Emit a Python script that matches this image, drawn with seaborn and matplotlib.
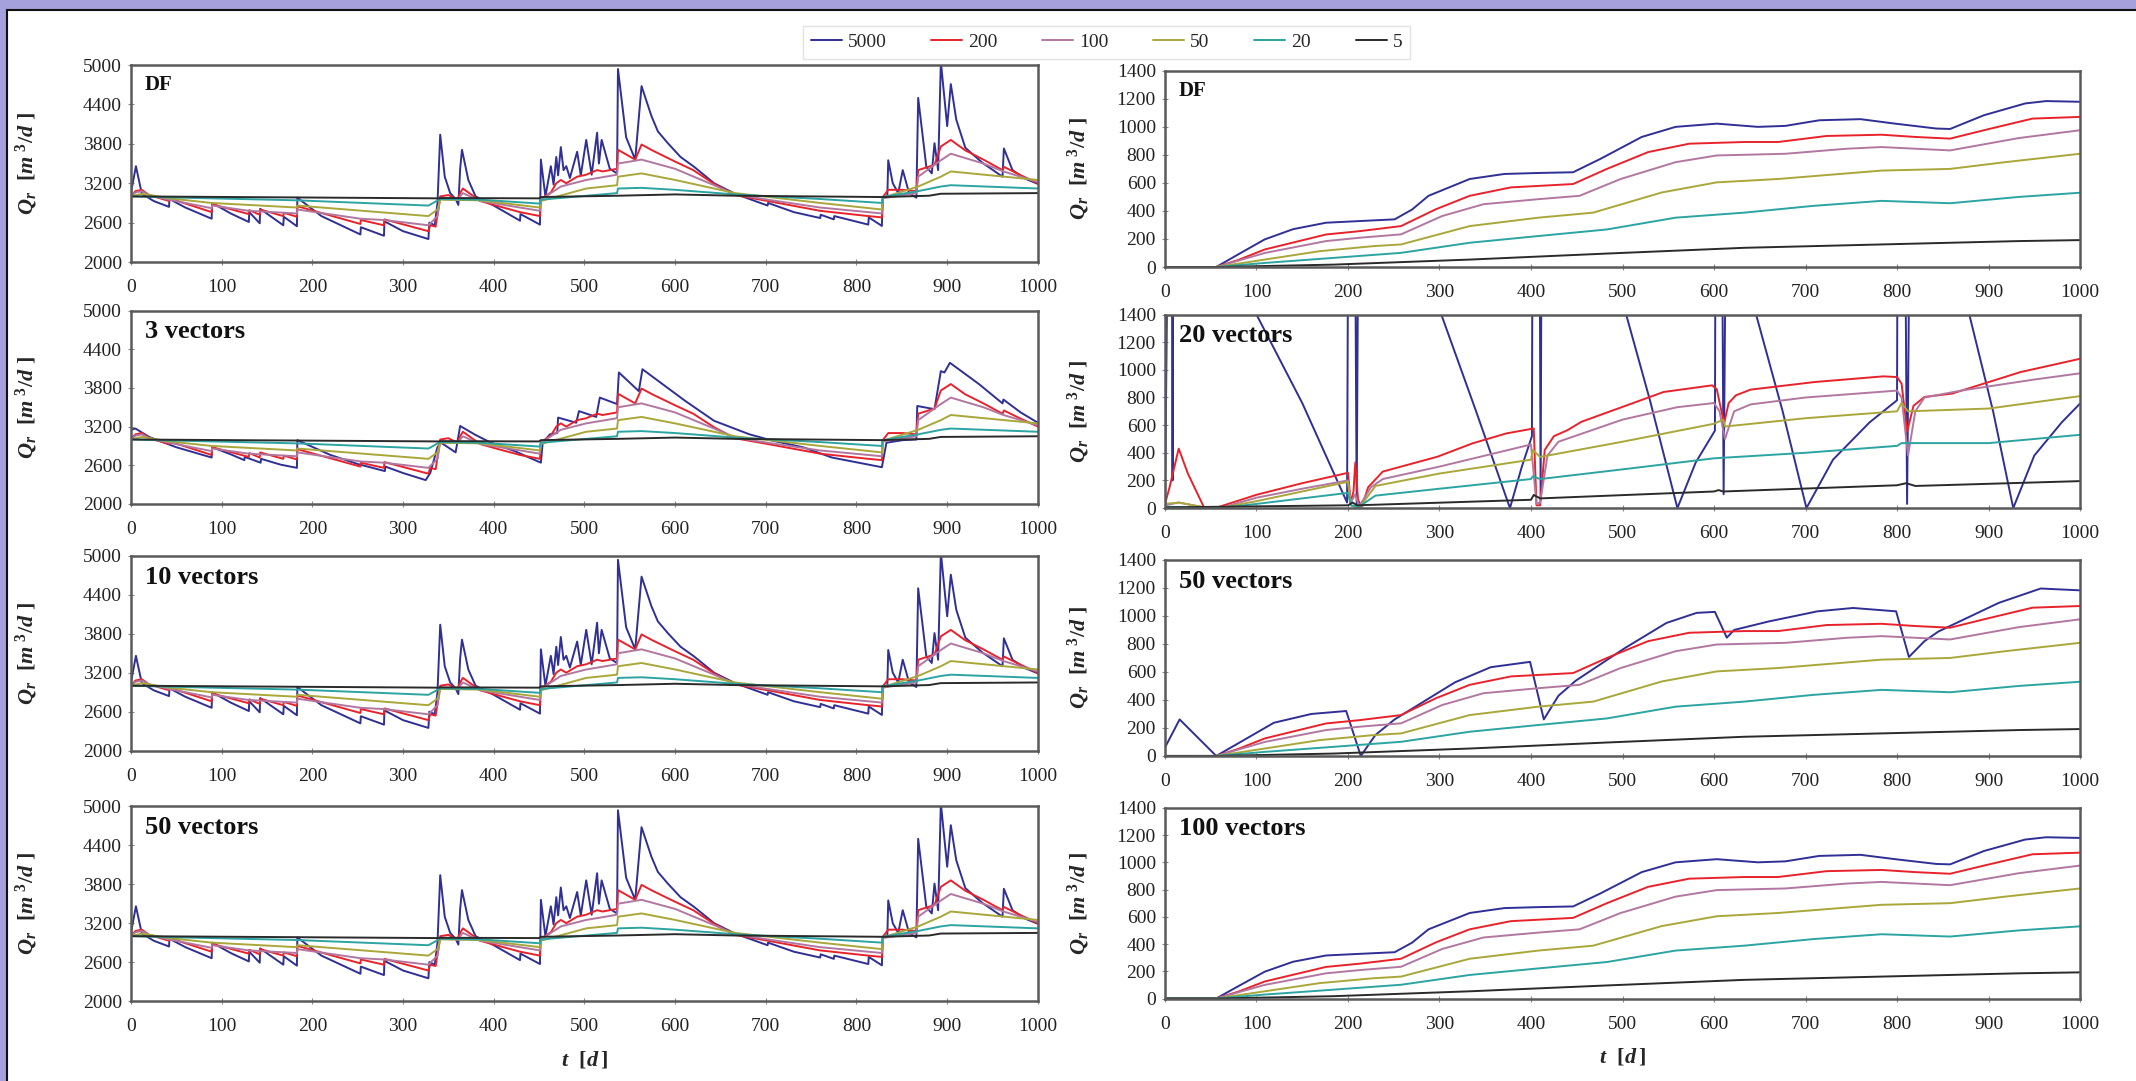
import pandas as pd
import matplotlib
matplotlib.use('Agg')
import matplotlib.pyplot as plt
import seaborn as sns
from matplotlib.patches import Rectangle

# legend entries and colours
LABELS = ['5000', '200', '100', '50', '20', '5']
COLORS = ['#2f2f95', '#e8222b', '#b277a0', '#a9a73a', '#2ba4a2', '#2a2a2a']

# ---------------- left column: Q_r around 3000 (DF, 10 and 50 vectors) ----------------
L_T_5000 = [0, 5.5, 12, 25, 42, 42.5, 60, 89, 89.5, 110, 130, 130.5, 142, 142.5, 168, 168.5,
            183, 183.5, 210, 253, 253.5, 279, 279.5, 300, 328, 329, 335, 338, 341, 346, 352,
            358, 361, 363, 365, 372, 380, 400, 429, 429.5, 451, 452, 457, 463, 466, 469, 471,
            474, 477, 480, 484, 492, 496, 502, 508, 514, 516, 519, 528, 536, 537, 546, 556,
            563, 574, 581, 592, 606, 621, 643, 666, 702, 702.5, 731, 760, 760.5, 775, 775.5,
            813, 813.5, 828, 829, 834, 835, 840, 846, 851, 858, 866, 868, 877, 883, 886, 890,
            893, 900, 904, 910, 920, 939, 961, 962.5, 972, 986, 1000]
L_Q_5000 = [3050, 3460, 3040, 2930, 2840, 2960, 2830, 2660, 2900, 2740, 2610, 2760, 2590, 2810,
            2560, 2690, 2545, 2980, 2700, 2420, 2530, 2400, 2620, 2470, 2350, 2600, 2560, 2900,
            3940, 3300, 3050, 2960, 2870, 3420, 3710, 3250, 3000, 2860, 2630, 2730, 2570, 3560,
            3000, 3460, 3180, 3600, 3320, 3750, 3400, 3460, 3280, 3680, 3320, 3860, 3330, 3970,
            3500, 3860, 3420, 3350, 4940, 3900, 3560, 4680, 4220, 3990, 3810, 3600, 3450, 3200,
            3040, 2860, 2900, 2760, 2670, 2720, 2650, 2700, 2570, 2680, 2550, 2990, 3000, 3550,
            3200, 3050, 3400, 3050, 2980, 4500, 3450, 3350, 3810, 3400, 5050, 4070, 4710, 4170,
            3740, 3510, 3300, 3730, 3400, 3270, 3190]

L_T_200 = [0, 5, 12, 20, 42, 42.5, 89, 89.5, 130, 130.5, 142, 142.5, 168, 168.5, 183, 183.5,
           253, 253.5, 279, 279.5, 328, 330, 336, 341, 350, 360, 363, 366, 375, 385, 400, 429,
           451, 452, 463, 469, 474, 480, 492, 502, 514, 520, 536, 537, 556, 563, 575, 600, 620,
           643, 666, 702, 760, 813, 828, 829, 835, 851, 866, 868, 886, 893, 904, 920, 940, 961,
           962.5, 980, 1000]
L_Q_200 = [3000, 3080, 3100, 3020, 2930, 2970, 2760, 2880, 2730, 2790, 2720, 2800, 2700, 2750,
           2690, 2850, 2580, 2640, 2560, 2650, 2470, 2560, 2540, 3000, 3020, 2950, 3050, 3120,
           3030, 2930, 2870, 2760, 2700, 2960, 3060, 3200, 3250, 3200, 3300, 3330, 3400, 3380,
           3420, 3710, 3560, 3790, 3700, 3530, 3400, 3190, 3020, 2930, 2780, 2700, 2680, 2990,
           3100, 3100, 3080, 3400, 3480, 3760, 3860, 3700, 3560, 3400, 3450, 3330, 3200]

L_T_100 = [0, 5, 12, 20, 42, 89, 89.5, 130, 183, 183.5, 253, 279, 328, 338, 341, 360, 366, 385,
           451, 452, 474, 502, 536, 537, 563, 600, 643, 666, 702, 760, 828, 829, 866, 868, 893,
           904, 940, 962, 1000]
L_Q_100 = [3000, 3060, 3080, 3020, 2950, 2820, 2860, 2780, 2740, 2800, 2660, 2640, 2560, 2700,
           2960, 2950, 3050, 2930, 2780, 2950, 3150, 3250, 3330, 3500, 3560, 3420, 3170, 3030,
           2950, 2830, 2740, 2970, 3050, 3300, 3550, 3650, 3500, 3380, 3220]

L_T_50 = [0, 12, 42, 89, 183, 183.5, 328, 338, 341, 385, 451, 452, 502, 536, 537, 563, 600, 666,
          760, 828, 829, 868, 893, 904, 1000]
L_Q_50 = [3000, 3040, 2970, 2900, 2830, 2860, 2700, 2800, 2950, 2940, 2830, 2930, 3120, 3170,
          3300, 3350, 3250, 3050, 2900, 2800, 2980, 3150, 3300, 3380, 3250]

L_T_20 = [0, 42, 183, 328, 341, 385, 451, 452, 536, 537, 563, 600, 666, 760, 828, 829, 868, 893,
          904, 1000]
L_Q_20 = [3000, 2985, 2940, 2860, 2960, 2950, 2890, 2950, 3050, 3120, 3130, 3100, 3030, 2960,
          2900, 2990, 3080, 3150, 3170, 3120]

L_T_5 = [0, 340, 342, 450, 452, 537, 600, 666, 828, 880, 893, 1000]
L_Q_5 = [3000, 2970, 2975, 2970, 2990, 3010, 3030, 3010, 2990, 3010, 3040, 3050]

# 3 vectors: the 5000 curve loses its spikes
V3_T_5000 = [0, 5, 20, 50, 89, 89.5, 110, 125, 125.5, 143, 143.5, 165, 183, 183.5, 220, 250,
             280, 280.5, 300, 325, 330, 338, 342, 358, 363, 380, 397, 423, 452, 454, 462, 470,
             471, 491, 494, 513, 517, 536, 538, 560, 564, 611, 643, 682, 708, 741, 773, 828,
             833, 851, 866, 867, 886, 893, 897, 903, 935, 961, 962, 981, 1000]
V3_Q_5000 = [3150, 3170, 3040, 2880, 2720, 2880, 2770, 2680, 2730, 2640, 2700, 2610, 2560, 2990,
             2760, 2620, 2510, 2580, 2480, 2370, 2480, 2880, 2950, 2800, 3210, 3070, 2950, 2820,
             2640, 2950, 3080, 3100, 3340, 3260, 3440, 3350, 3650, 3550, 4040, 3750, 4090, 3600,
             3290, 3080, 2980, 2880, 2720, 2570, 2950, 2990, 3000, 3520, 3470, 4060, 4040, 4190,
             3860, 3560, 3620, 3420, 3260]

# ---------------- right column: Q_r 0..1400 (DF and 100 vectors) ----------------
R_T_5000 = [0, 56, 80, 109, 140, 176, 213, 251, 270, 288, 333, 371, 408, 446, 476, 521, 558,
            603, 648, 678, 715, 760, 798, 843, 858, 895, 940, 963, 1000]
R_Q_5000 = [0, 0, 90, 197, 270, 316, 328, 340, 410, 508, 628, 664, 671, 676, 772, 928, 1000,
            1023, 1000, 1007, 1047, 1055, 1023, 988, 985, 1083, 1167, 1184, 1179]

R_T_200 = [0, 56, 80, 109, 176, 213, 258, 296, 333, 378, 446, 483, 528, 573, 633, 670, 723,
           783, 820, 858, 895, 948, 1000]
R_Q_200 = [0, 0, 50, 125, 232, 256, 292, 412, 508, 568, 592, 700, 820, 880, 892, 892, 935,
           944, 928, 916, 976, 1059, 1071]

R_T_100 = [0, 56, 109, 176, 213, 258, 303, 348, 408, 453, 498, 558, 603, 678, 745, 783, 858,
           933, 1000]
R_Q_100 = [0, 0, 100, 185, 209, 233, 364, 448, 484, 508, 628, 748, 796, 808, 844, 856, 832,
           920, 976]

R_T_50 = [0, 56, 109, 169, 228, 258, 333, 408, 468, 543, 603, 670, 783, 858, 918, 1000]
R_Q_50 = [0, 0, 53, 113, 149, 161, 292, 352, 388, 532, 604, 628, 688, 700, 748, 808]

R_T_20 = [0, 56, 109, 184, 258, 333, 408, 483, 558, 633, 708, 783, 858, 933, 1000]
R_Q_20 = [0, 0, 29, 65, 101, 173, 221, 268, 352, 388, 436, 472, 455, 500, 530]

R_T_5 = [0, 56, 184, 333, 483, 633, 783, 933, 1000]
R_Q_5 = [0, 0, 17, 53, 96, 137, 161, 185, 192]

# 20 vectors (unstable 5000 curve runs far off the top)
V20_T_5000 = [0, 4.5, 7.5, 8.3, 9, 100, 150, 199, 200.7, 207, 209.5, 212, 302, 340, 377, 390,
              401, 402, 409, 410.5, 412, 504, 530, 560, 580, 601, 602, 608, 610.5, 614, 646,
              675, 701, 730, 770, 800, 801, 808, 811, 815, 879, 905, 927, 950, 980, 1000]
V20_Q_5000 = [0, 3000, 3000, 200, 3000, 1400, 760, 40, 3000, 3000, 30, 3000, 1400, 700, 0, 300,
              520, 3000, 3000, 60, 3000, 1400, 780, 0, 330, 560, 3000, 3000, 100, 3000, 1400,
              700, 0, 350, 620, 780, 3000, 3000, 30, 3000, 1400, 700, 0, 380, 620, 756]
V20_T_200 = [0, 5, 15, 25, 43, 55, 100, 150, 200, 203, 206, 208, 211, 215, 222, 238, 298, 336,
             373, 403, 406, 410, 415, 425, 440, 455, 500, 545, 598, 603, 611, 616, 624, 640,
             710, 785, 800, 805, 811, 818, 830, 860, 935, 1000]
V20_Q_200 = [30, 150, 430, 250, 0, 0, 96, 180, 255, 40, 120, 330, 60, 10, 150, 264, 372, 468,
             540, 576, 20, 20, 420, 520, 564, 624, 732, 840, 888, 860, 612, 760, 816, 857, 912,
             953, 948, 900, 552, 740, 804, 828, 984, 1080]
V20_T_100 = [0, 15, 43, 60, 100, 150, 200, 203, 208, 212, 225, 238, 300, 400, 406, 410, 418,
             430, 500, 560, 600, 606, 612, 622, 640, 700, 800, 805, 812, 820, 830, 870, 950, 1000]
V20_Q_100 = [20, 40, 5, 0, 75, 140, 200, 40, 100, 10, 150, 210, 300, 460, 30, 40, 380, 480,
             640, 730, 760, 700, 500, 700, 750, 800, 850, 800, 380, 700, 800, 850, 930, 975]
V20_T_50 = [0, 15, 43, 60, 100, 200, 203, 212, 230, 300, 400, 402, 410, 500, 600, 610, 612, 700,
            800, 805, 812, 900, 1000]
V20_Q_50 = [30, 40, 5, 0, 50, 190, 20, 0, 160, 250, 350, 420, 370, 480, 610, 640, 590, 650,
            700, 760, 700, 720, 810]
V20_T_20 = [0, 60, 100, 200, 203, 212, 230, 300, 400, 402, 410, 500, 600, 700, 800, 805, 900, 1000]
V20_Q_20 = [10, 0, 30, 110, 20, 10, 90, 140, 210, 230, 210, 280, 360, 400, 450, 470, 470, 530]
V20_T_5 = [0, 200, 205, 210, 400, 403, 410, 600, 605, 610, 800, 810, 820, 1000]
V20_Q_5 = [5, 20, 40, 20, 60, 95, 70, 120, 130, 120, 165, 180, 160, 195]

# 50 vectors (right): 5000 curve with periodic drops
V50_T_5000 = [0, 16, 56, 80, 119, 160, 198, 214, 230, 251, 317, 356, 399, 414, 430, 449, 502,
              548, 581, 601, 614, 622, 660, 713, 752, 799, 813, 830, 845, 911, 957, 1000]
V50_Q_5000 = [60, 261, 0, 90, 237, 300, 321, 0, 150, 261, 526, 634, 672, 261, 430, 538, 768,
              950, 1022, 1029, 845, 900, 961, 1033, 1057, 1033, 707, 820, 888, 1093, 1196, 1183]

left_df = {'5000': (L_T_5000, L_Q_5000), '200': (L_T_200, L_Q_200), '100': (L_T_100, L_Q_100),
           '50': (L_T_50, L_Q_50), '20': (L_T_20, L_Q_20), '5': (L_T_5, L_Q_5)}
left_v3 = dict(left_df, **{'5000': (V3_T_5000, V3_Q_5000)})
right_df = {'5000': (R_T_5000, R_Q_5000), '200': (R_T_200, R_Q_200), '100': (R_T_100, R_Q_100),
            '50': (R_T_50, R_Q_50), '20': (R_T_20, R_Q_20), '5': (R_T_5, R_Q_5)}
right_v20 = {'5000': (V20_T_5000, V20_Q_5000), '200': (V20_T_200, V20_Q_200),
             '100': (V20_T_100, V20_Q_100), '50': (V20_T_50, V20_Q_50),
             '20': (V20_T_20, V20_Q_20), '5': (V20_T_5, V20_Q_5)}
right_v50 = dict(right_df, **{'5000': (V50_T_5000, V50_Q_5000)})

sns.set_theme(style='white')
plt.rcParams['font.family'] = ['Liberation Serif', 'DejaVu Serif']
plt.rcParams['mathtext.fontset'] = 'custom'
plt.rcParams['mathtext.it'] = 'Liberation Serif:italic:bold'
plt.rcParams['mathtext.rm'] = 'Liberation Serif:bold'
plt.rcParams['mathtext.bf'] = 'Liberation Serif:bold'

fig = plt.figure(figsize=(21.36, 10.81), dpi=100)
fig.patch.set_facecolor('#a4a1dc')
# white page with a thin dark border (lavender strip shows on top and left)
fig.patches.append(Rectangle((7 / 2136, -0.01), 1.02, 1 - 10 / 1081 + 0.01, transform=fig.transFigure,
                             facecolor='white', edgecolor='#111111', lw=1.5, zorder=-10))


def draw_panel(rect, series, ymax, ystep, tag, tag_size, ylab_x, xlabel=False):
    ax = fig.add_axes(rect)
    for lab, col in zip(LABELS, COLORS):
        t, q = series[lab]
        df = pd.DataFrame({'t': t, 'q': q})
        sns.lineplot(data=df, x='t', y='q', ax=ax, color=col, lw=1.4,
                     estimator=None, sort=False, legend=False)
    ymin = 2000 if ymax == 5000 else 0
    ax.set_xlim(0, 1000)
    ax.set_ylim(ymin, ymax)
    ax.set_xticks(range(0, 1001, 100))
    ax.set_yticks(range(ymin, ymax + 1, ystep))
    ax.set_facecolor('white')
    for s in ax.spines.values():
        s.set_color('#5a5a5a')
        s.set_linewidth(1.8)
    ax.tick_params(axis='both', direction='inout', length=5, width=0.8, color='#888888',
                   labelsize=14, labelcolor='#222222')
    ax.tick_params(axis='x', pad=10, bottom=True)
    ax.tick_params(axis='y', pad=4, left=True)
    ax.set_ylabel(r'$Q_r\ \ [m^{\ 3}/d\ ]$', fontsize=16)
    ax.yaxis.set_label_coords(ylab_x, 0.5)
    if xlabel:
        ax.set_xlabel(r'$t\ \ [d\,]$', fontsize=16, labelpad=10)
    else:
        ax.set_xlabel('')
    ax.text(0.015, 0.95, tag, transform=ax.transAxes, ha='left', va='top',
            fontsize=tag_size, fontweight='bold', color='#111111')
    return ax


left_rows = [(0.7576, 0.1822), (0.5338, 0.1789), (0.3056, 0.1802), (0.0740, 0.1800)]
right_rows = [(0.7530, 0.1815), (0.5300, 0.1790), (0.3007, 0.1813), (0.0763, 0.1764)]

left_sets = [(left_df, 'DF', 15), (left_v3, '3 vectors', 19),
             (left_df, '10 vectors', 19), (left_df, '50 vectors', 19)]
right_sets = [(right_df, 'DF', 15), (right_v20, '20 vectors', 19),
              (right_v50, '50 vectors', 19), (right_df, '100 vectors', 19)]

for i, ((b, h), (ser, tag, sz)) in enumerate(zip(left_rows, left_sets)):
    draw_panel([0.0613, b, 0.4246, h], ser, 5000, 600, tag, sz, -0.10, xlabel=(i == 3))
for i, ((b, h), (ser, tag, sz)) in enumerate(zip(right_rows, right_sets)):
    draw_panel([0.5454, b, 0.4284, h], ser, 1400, 200, tag, sz, -0.08, xlabel=(i == 3))

handles = [plt.Line2D([], [], color=c, lw=1.4) for c in COLORS]
fig.legend(handles, LABELS, loc='center', bbox_to_anchor=(0.518, 0.961), ncol=6,
           fontsize=14, frameon=True, fancybox=False, edgecolor='#dddddd',
           handlelength=1.6, handletextpad=0.3, columnspacing=2.3, borderpad=0.4)

fig.savefig('out.png', dpi=100, facecolor=fig.get_facecolor())
